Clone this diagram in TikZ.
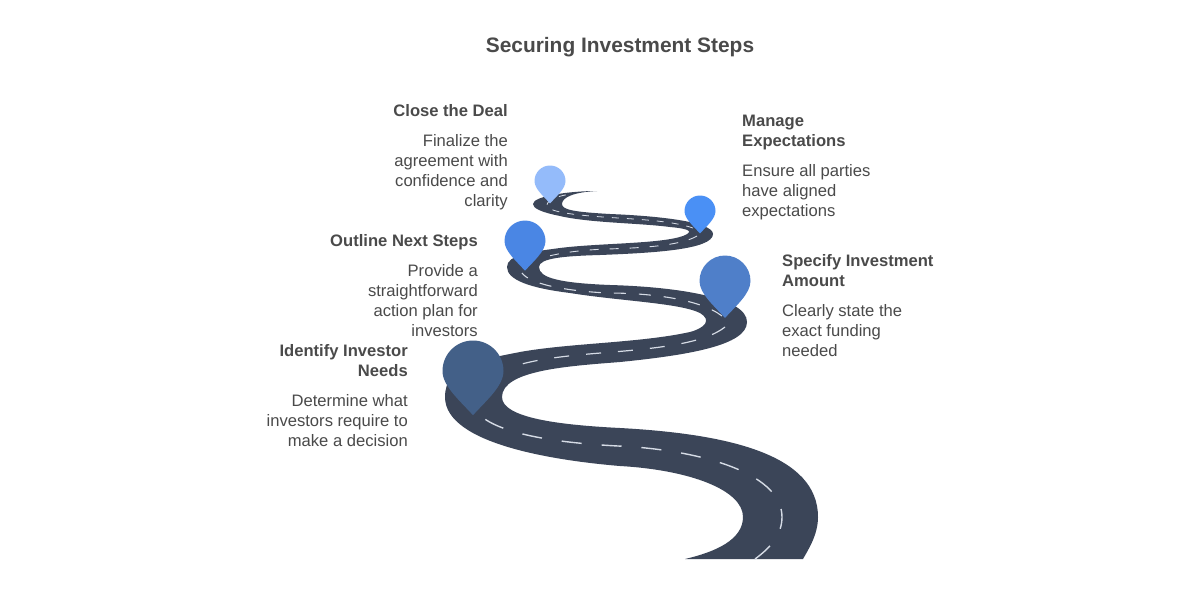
\documentclass[tikz,border=0pt]{standalone}
\usepackage{fontspec}
\setmainfont{Liberation Sans}
\definecolor{roadc}{HTML}{3B4558}
\definecolor{dashc}{HTML}{D5DBE5}
\definecolor{textc}{HTML}{4A4A4A}
\definecolor{pina}{HTML}{436088}
\definecolor{pinb}{HTML}{4F7FC9}
\definecolor{pinc}{HTML}{4A86E4}
\definecolor{pind}{HTML}{4A90F5}
\definecolor{pine}{HTML}{94BBFA}
\newcommand{\droppin}[4]{%
  \fill[#4,shift={(#1,#2)},x=#3pt,y=#3pt]
    (-1,0) .. controls (-1,.552) and (-.552,1) .. (0,1)
    .. controls (.552,1) and (1,.552) .. (1,0)
    .. controls (1,-.5) and (.42,-.98) .. (0,-1.45)
    .. controls (-.42,-.98) and (-1,-.5) .. (-1,0) -- cycle;}
\tikzset{
  blk/.style={inner sep=0pt,text=textc,font=\fontsize{16.6}{20}\selectfont},
  ttl/.style={blk,font=\fontsize{16.6}{20}\selectfont\bfseries},
  lftb/.style={anchor=north west,align=left},
  rgtb/.style={anchor=north east,align=right},
  lane/.style={dashc,line cap=butt}
}
\begin{document}
\begin{tikzpicture}[x=1pt,y=-1pt]
\useasboundingbox (0,0) rectangle (1200,600);
\fill[white] (0,0) rectangle (1200,600);
% road
\fill[roadc] (685,559) .. controls (715,552) and (743,540) .. (743,517)
 .. controls (743,490) and (690,470) .. (620,466)
 .. controls (560,461) and (445,445) .. (445,397)
 .. controls (445,365) and (480,360) .. (520,352)
 .. controls (570,343) and (640,343) .. (690,332)
 .. controls (705,328) and (712,320) .. (700,313)
 .. controls (680,303) and (620,301) .. (570,293)
 .. controls (530,288) and (507,280) .. (507,267)
 .. controls (507,255) and (530,252) .. (560,248)
 .. controls (600,243) and (660,244) .. (683,236)
 .. controls (693,232) and (692,229) .. (670,227)
 .. controls (640,223) and (590,223) .. (560,216)
 .. controls (540,212) and (533,208) .. (533,204)
 .. controls (533,196) and (570,191) .. (597,191)
 .. controls (575,192) and (562,197) .. (562,204)
 .. controls (562,210) and (575,212) .. (610,214)
 .. controls (660,216) and (713,222) .. (713,234)
 .. controls (713,250) and (650,253) .. (600,255)
 .. controls (565,256) and (539,258) .. (539,267)
 .. controls (539,278) and (560,283) .. (610,285)
 .. controls (680,287) and (747,298) .. (747,322)
 .. controls (747,345) and (690,355) .. (620,362)
 .. controls (570,366) and (502,370) .. (502,397)
 .. controls (502,418) and (560,425) .. (620,428)
 .. controls (730,434) and (818,455) .. (818,517)
 .. controls (818,535) and (808,550) .. (803,559) -- cycle;
% centre line
\draw[lane,line width=1.4pt,dash pattern=on 20pt off 20pt] (755,559) .. controls (770,548) and (782,535) .. (782,517) .. controls (782,470) and (690,449) .. (618,446) .. controls (560,443) and (505,435) .. (482,417);
\draw[lane,line width=1.2pt,dash pattern=on 15pt off 17pt] (725,327) .. controls (705,343) and (660,348) .. (613,352) .. controls (575,355) and (540,358) .. (515,366);
\draw[lane,line width=1.1pt,dash pattern=on 12pt off 13pt] (722,316) .. controls (700,299) and (650,293) .. (608,293) .. controls (565,291) and (530,284) .. (522,273);
\draw[lane,line width=.9pt,dash pattern=on 9pt off 11pt] (697,236) .. controls (680,246) and (640,248) .. (607,249) .. controls (580,250) and (560,253) .. (545,257);
\draw[lane,line width=.8pt,dash pattern=on 7pt off 8pt] (693,228) .. controls (670,220) and (630,219) .. (603,217) .. controls (575,215) and (547,212) .. (547,205) .. controls (547,200) and (560,195) .. (572,194);
% pins
\droppin{473}{371}{30.5}{pina}
\droppin{725}{281}{25.5}{pinb}
\droppin{525}{241}{20.5}{pinc}
\droppin{700}{211}{15.5}{pind}
\droppin{550}{181}{15.5}{pine}
% texts
\node[blk,font=\fontsize{20.9}{24}\selectfont\bfseries] (title) at (620,47.5) {Securing Investment Steps};
\node[ttl,rgtb] (h5) at (508,102) {\strut Close the Deal};
\node[blk,rgtb] (b5) at (508,132) {\strut Finalize the\\agreement with\\confidence and\\clarity};
\node[ttl,lftb] (h4) at (742,112) {\strut Manage\\Expectations};
\node[blk,lftb] (b4) at (742,162) {\strut Ensure all parties\\have aligned\\expectations};
\node[ttl,rgtb] (h3) at (478,232) {\strut Outline Next Steps};
\node[blk,rgtb] (b3) at (478,262) {\strut Provide a\\straightforward\\action plan for\\investors};
\node[ttl,lftb] (h2) at (782,252) {\strut Specify Investment\\Amount};
\node[blk,lftb] (b2) at (782,302) {\strut Clearly state the\\exact funding\\needed};
\node[ttl,rgtb] (h1) at (408,342) {\strut Identify Investor\\Needs};
\node[blk,rgtb] (b1) at (408,392) {\strut Determine what\\investors require to\\make a decision};
\end{tikzpicture}
\end{document}
